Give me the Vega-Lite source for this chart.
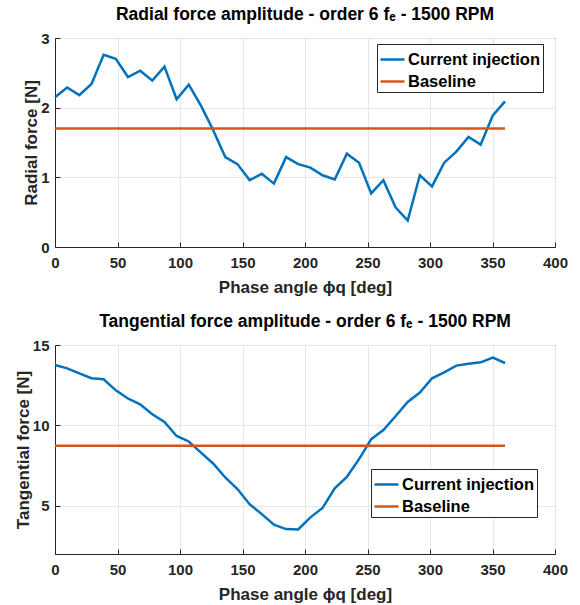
{
  "$schema": "https://vega.github.io/schema/vega-lite/v6.json",
  "background": "white",
  "padding": {"left": 13, "top": 5, "right": 0, "bottom": 0},
  "spacing": 16,
  "datasets": {
    "radial": [
      {"phase": 0, "force": 2.15, "series": "Current injection"},
      {"phase": 9.73, "force": 2.29, "series": "Current injection"},
      {"phase": 19.46, "force": 2.18, "series": "Current injection"},
      {"phase": 29.19, "force": 2.34, "series": "Current injection"},
      {"phase": 38.92, "force": 2.76, "series": "Current injection"},
      {"phase": 48.65, "force": 2.70, "series": "Current injection"},
      {"phase": 58.38, "force": 2.44, "series": "Current injection"},
      {"phase": 68.11, "force": 2.53, "series": "Current injection"},
      {"phase": 77.84, "force": 2.39, "series": "Current injection"},
      {"phase": 87.57, "force": 2.59, "series": "Current injection"},
      {"phase": 97.30, "force": 2.12, "series": "Current injection"},
      {"phase": 107.03, "force": 2.33, "series": "Current injection"},
      {"phase": 116.76, "force": 2.03, "series": "Current injection"},
      {"phase": 126.49, "force": 1.68, "series": "Current injection"},
      {"phase": 136.22, "force": 1.29, "series": "Current injection"},
      {"phase": 145.95, "force": 1.19, "series": "Current injection"},
      {"phase": 155.68, "force": 0.96, "series": "Current injection"},
      {"phase": 165.41, "force": 1.05, "series": "Current injection"},
      {"phase": 175.14, "force": 0.91, "series": "Current injection"},
      {"phase": 184.86, "force": 1.29, "series": "Current injection"},
      {"phase": 194.59, "force": 1.19, "series": "Current injection"},
      {"phase": 204.32, "force": 1.14, "series": "Current injection"},
      {"phase": 214.05, "force": 1.03, "series": "Current injection"},
      {"phase": 223.78, "force": 0.97, "series": "Current injection"},
      {"phase": 233.51, "force": 1.34, "series": "Current injection"},
      {"phase": 243.24, "force": 1.21, "series": "Current injection"},
      {"phase": 252.97, "force": 0.77, "series": "Current injection"},
      {"phase": 262.70, "force": 0.96, "series": "Current injection"},
      {"phase": 272.43, "force": 0.57, "series": "Current injection"},
      {"phase": 282.16, "force": 0.38, "series": "Current injection"},
      {"phase": 291.89, "force": 1.03, "series": "Current injection"},
      {"phase": 301.62, "force": 0.87, "series": "Current injection"},
      {"phase": 311.35, "force": 1.21, "series": "Current injection"},
      {"phase": 321.08, "force": 1.37, "series": "Current injection"},
      {"phase": 330.81, "force": 1.58, "series": "Current injection"},
      {"phase": 340.54, "force": 1.47, "series": "Current injection"},
      {"phase": 350.27, "force": 1.89, "series": "Current injection"},
      {"phase": 360, "force": 2.09, "series": "Current injection"},
      {"phase": 0, "force": 1.70, "series": "Baseline"},
      {"phase": 360, "force": 1.70, "series": "Baseline"}
    ],
    "tangential": [
      {"phase": 0, "force": 13.76, "series": "Current injection"},
      {"phase": 9.73, "force": 13.55, "series": "Current injection"},
      {"phase": 19.46, "force": 13.24, "series": "Current injection"},
      {"phase": 29.19, "force": 12.93, "series": "Current injection"},
      {"phase": 38.92, "force": 12.87, "series": "Current injection"},
      {"phase": 48.65, "force": 12.18, "series": "Current injection"},
      {"phase": 58.38, "force": 11.67, "series": "Current injection"},
      {"phase": 68.11, "force": 11.31, "series": "Current injection"},
      {"phase": 77.84, "force": 10.69, "series": "Current injection"},
      {"phase": 87.57, "force": 10.21, "series": "Current injection"},
      {"phase": 97.30, "force": 9.34, "series": "Current injection"},
      {"phase": 107.03, "force": 9.00, "series": "Current injection"},
      {"phase": 116.76, "force": 8.31, "series": "Current injection"},
      {"phase": 126.49, "force": 7.63, "series": "Current injection"},
      {"phase": 136.22, "force": 6.76, "series": "Current injection"},
      {"phase": 145.95, "force": 6.04, "series": "Current injection"},
      {"phase": 155.68, "force": 5.10, "series": "Current injection"},
      {"phase": 165.41, "force": 4.48, "series": "Current injection"},
      {"phase": 175.14, "force": 3.82, "series": "Current injection"},
      {"phase": 184.86, "force": 3.55, "series": "Current injection"},
      {"phase": 194.59, "force": 3.53, "series": "Current injection"},
      {"phase": 204.32, "force": 4.28, "series": "Current injection"},
      {"phase": 214.05, "force": 4.86, "series": "Current injection"},
      {"phase": 223.78, "force": 6.08, "series": "Current injection"},
      {"phase": 233.51, "force": 6.80, "series": "Current injection"},
      {"phase": 243.24, "force": 7.90, "series": "Current injection"},
      {"phase": 252.97, "force": 9.14, "series": "Current injection"},
      {"phase": 262.70, "force": 9.71, "series": "Current injection"},
      {"phase": 272.43, "force": 10.57, "series": "Current injection"},
      {"phase": 282.16, "force": 11.46, "series": "Current injection"},
      {"phase": 291.89, "force": 12.04, "series": "Current injection"},
      {"phase": 301.62, "force": 12.93, "series": "Current injection"},
      {"phase": 311.35, "force": 13.30, "series": "Current injection"},
      {"phase": 321.08, "force": 13.72, "series": "Current injection"},
      {"phase": 330.81, "force": 13.84, "series": "Current injection"},
      {"phase": 340.54, "force": 13.92, "series": "Current injection"},
      {"phase": 350.27, "force": 14.21, "series": "Current injection"},
      {"phase": 360, "force": 13.88, "series": "Current injection"},
      {"phase": 0, "force": 8.73, "series": "Baseline"},
      {"phase": 360, "force": 8.73, "series": "Baseline"}
    ]
  },
  "vconcat": [
    {
      "width": 500,
      "height": 209,
      "title": "Radial force amplitude - order 6 fₑ - 1500 RPM",
      "data": {"name": "radial"},
      "mark": {"type": "line", "strokeWidth": 2.5},
      "encoding": {
        "x": {"field": "phase", "type": "quantitative", "scale": {"domain": [0, 400], "nice": false},
              "axis": {"title": "Phase angle ϕq [deg]", "values": [0, 50, 100, 150, 200, 250, 300, 350, 400]}},
        "y": {"field": "force", "type": "quantitative", "scale": {"domain": [0, 3], "nice": false},
              "axis": {"title": "Radial force [N]", "values": [0, 1, 2, 3]}},
        "color": {"field": "series", "type": "nominal", "sort": null,
                  "scale": {"domain": ["Current injection", "Baseline"], "range": ["#0072BD", "#D95319"]},
                  "legend": {"title": null, "orient": "none", "legendX": 322, "legendY": 6}}
      }
    },
    {
      "width": 500,
      "height": 209,
      "title": "Tangential force amplitude - order 6 fₑ - 1500 RPM",
      "data": {"name": "tangential"},
      "mark": {"type": "line", "strokeWidth": 2.5},
      "encoding": {
        "x": {"field": "phase", "type": "quantitative", "scale": {"domain": [0, 400], "nice": false},
              "axis": {"title": "Phase angle ϕq [deg]", "values": [0, 50, 100, 150, 200, 250, 300, 350, 400]}},
        "y": {"field": "force", "type": "quantitative", "scale": {"domain": [2, 15], "nice": false, "zero": false},
              "axis": {"title": "Tangential force [N]", "values": [5, 10, 15]}},
        "color": {"field": "series", "type": "nominal", "sort": null,
                  "scale": {"domain": ["Current injection", "Baseline"], "range": ["#0072BD", "#D95319"]},
                  "legend": {"title": null, "orient": "none", "legendX": 316, "legendY": 124}}
      }
    }
  ],
  "resolve": {"scale": {"color": "independent"}},
  "config": {
    "font": "Liberation Sans",
    "view": {"stroke": "#262626", "strokeWidth": 1},
    "title": {"font": "Liberation Sans", "fontSize": 17.5, "fontWeight": "bold", "color": "#000000", "offset": 7.5, "anchor": "middle"},
    "axis": {
      "labelFont": "Liberation Sans", "titleFont": "Liberation Sans",
      "labelFontSize": 15, "labelFontWeight": "bold", "labelColor": "#262626",
      "titleFontSize": 17, "titleFontWeight": "bold", "titleColor": "#262626",
      "domainColor": "#262626", "tickColor": "#262626", "tickSize": -5,
      "gridColor": "#e6e6e6", "labelPadding": 11, "labelFlush": false, "labelOverlap": false
    },
    "axisY": {"titlePadding": 0},
    "axisX": {"titlePadding": 9, "labelPadding": 13},
    "legend": {
      "labelFont": "Liberation Sans",
      "labelFontSize": 16.5, "labelFontWeight": "bold", "labelColor": "#000000",
      "symbolType": "stroke", "symbolSize": 576, "symbolStrokeWidth": 2.5, "symbolOffset": 0,
      "strokeColor": "#262626", "fillColor": "white", "padding": 2, "rowPadding": -3,
      "labelOffset": 2, "cornerRadius": 0
    }
  }
}
